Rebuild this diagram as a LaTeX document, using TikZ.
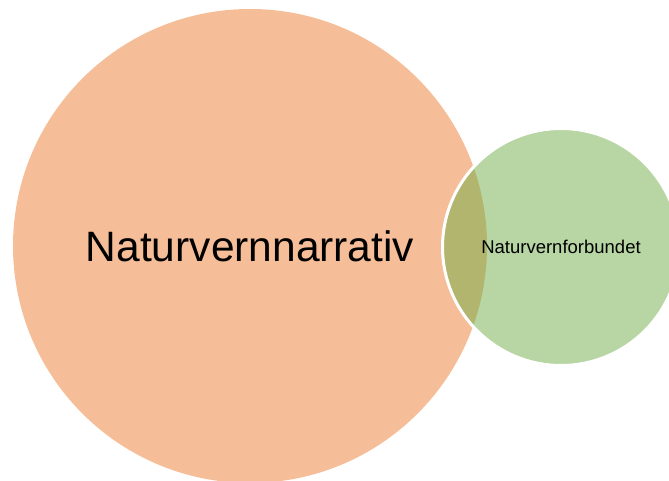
\documentclass[tikz,border=0pt]{standalone}
\usepackage{fontspec}
\setmainfont{Liberation Sans}
\usepackage{tikz}

\definecolor{accentorange}{HTML}{ED7D31}
\definecolor{accentgreen}{HTML}{70AD47}

\begin{document}
\begin{tikzpicture}[x=1pt, y=-1pt,
  bubble/.style={circle, inner sep=0pt, text=black, fill opacity=0.5, text opacity=1}]

  \useasboundingbox (0,0) rectangle (669,481);

  \newcommand\BigR{237pt}
  \newcommand\SmallD{237pt}

  \node[bubble, fill=accentorange, minimum size=2*\BigR, font=\fontsize{42.5}{48}\selectfont]
    (narrativ) at (250,246) {Naturvernnarrativ};

  \node[bubble, fill=accentgreen, draw=white, line width=3pt, minimum size=\SmallD,
    font=\fontsize{18.5}{22}\selectfont]
    (forbund) at (561,247) {Naturvernforbundet};

\end{tikzpicture}
\end{document}
